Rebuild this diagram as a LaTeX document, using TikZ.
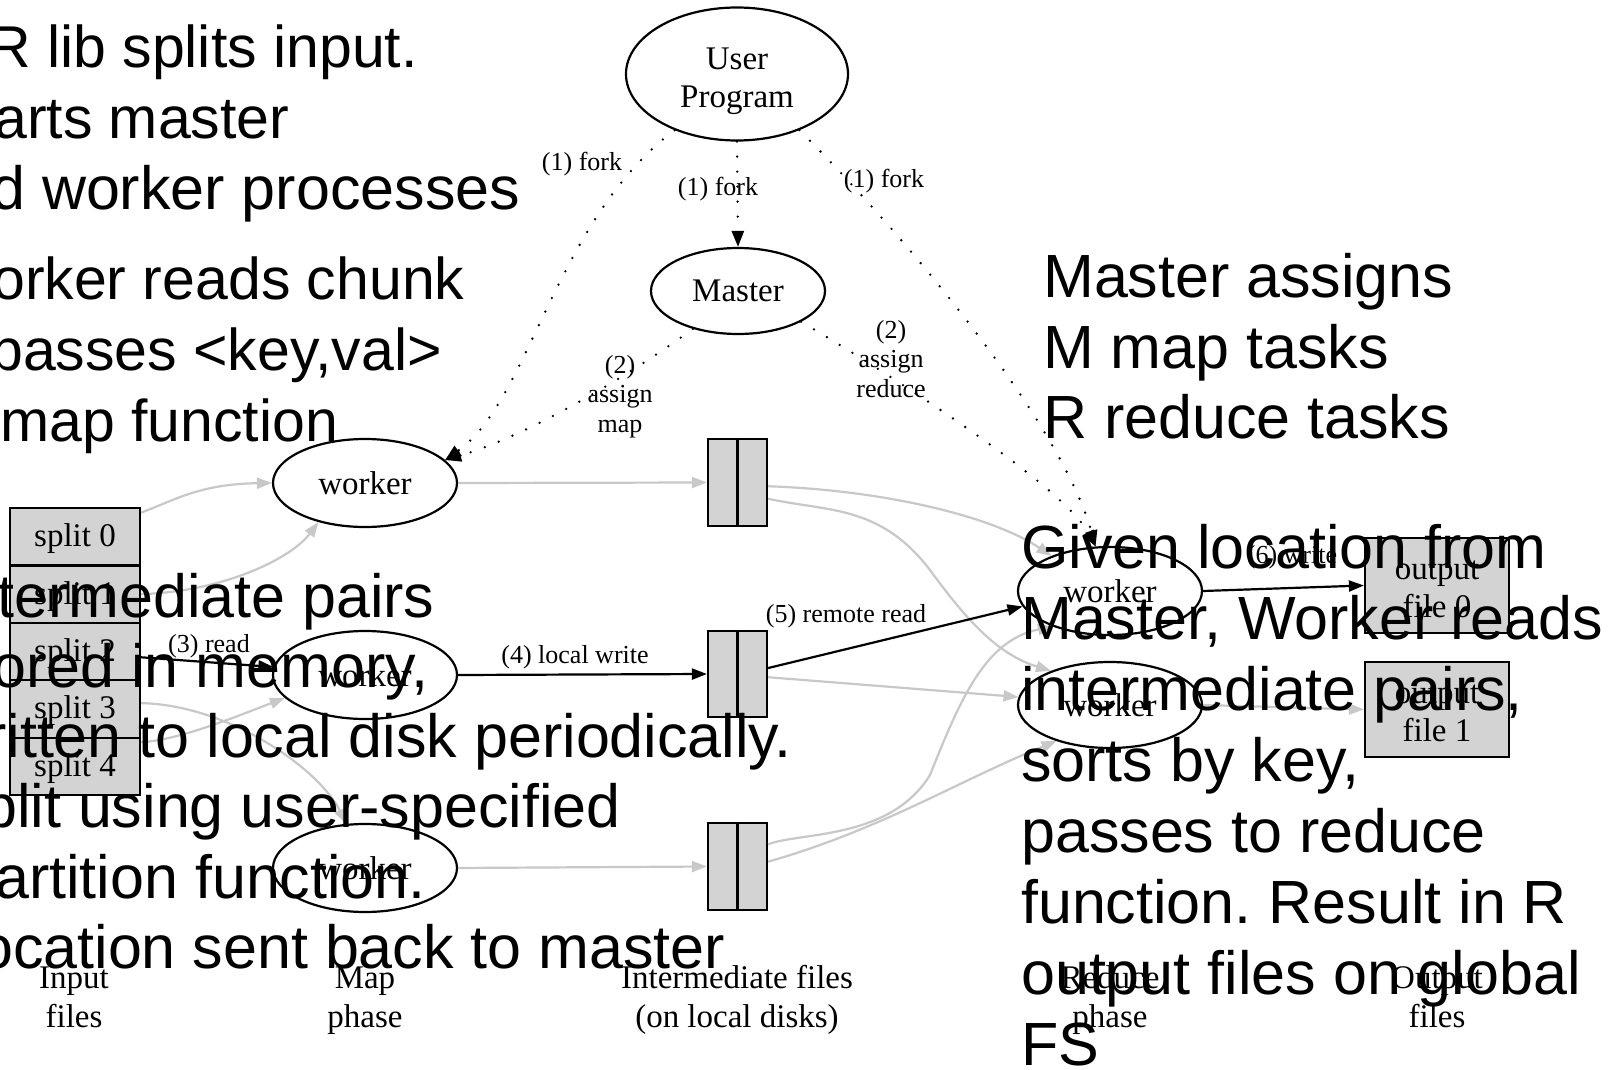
\documentclass[tikz,border=0pt]{standalone}
\usepackage{fontspec}
\setmainfont{Liberation Serif}
\newfontfamily\ovlfont{Liberation Sans}
\usetikzlibrary{arrows.meta,shapes.geometric}
\definecolor{edgegray}{HTML}{C8C8C8}
\definecolor{boxgray}{HTML}{D3D3D3}
\begin{document}
\begin{tikzpicture}[x=1pt,y=-1pt,
  gv/.style={font=\fontsize{33}{38}\selectfont, align=center},
  ell/.style={draw, ellipse, line width=2.2pt, inner sep=0pt, gv},
  cell/.style={draw, rectangle, line width=2.2pt, fill=boxgray, inner sep=0pt, gv},
  gedge/.style={draw=edgegray, line width=2.2pt, -{Triangle[length=15pt,width=11pt,fill=edgegray]}},
  bedge/.style={draw=black, line width=2.2pt, -{Triangle[length=15pt,width=11pt]}},
  dedge/.style={draw=black, line width=2.6pt, dash pattern=on 0pt off 15pt, line cap=round, -{Triangle[length=16pt,width=12pt]}},
  elabel/.style={font=\fontsize{26}{29.5}\selectfont, align=center, anchor=base, inner sep=0pt},
  blabel/.style={font=\fontsize{33}{39}\selectfont, align=center, anchor=base, inner sep=0pt},
  big/.style={font=\ovlfont\fontsize{61}{71}\selectfont\frenchspacing, anchor=base west, inner sep=0pt},
  bigs/.style={big, font=\ovlfont\fontsize{59}{71}\selectfont\frenchspacing}]
\path[use as bounding box, fill=white] (0,0) rectangle (1610,1070);

% ---- nodes ----
\node[ell, minimum width=222, minimum height=133] (up) at (737,74) {\rule{0pt}{36pt}User\\Program};
\node[ell, minimum width=174, minimum height=86] (ms) at (738,291) {Master};

\node[cell, minimum width=130, minimum height=57.4] (s0) at (75,536.7) {\rule{0pt}{27pt}split 0};
\node[cell, minimum width=130, minimum height=57.4] (s1) at (75,594.1) {\rule{0pt}{27pt}split 1};
\node[cell, minimum width=130, minimum height=57.4] (s2) at (75,651.5) {\rule{0pt}{27pt}split 2};
\node[cell, minimum width=130, minimum height=57.4] (s3) at (75,708.9) {\rule{0pt}{27pt}split 3};
\node[cell, minimum width=130, minimum height=57.4] (s4) at (75,766.3) {\rule{0pt}{27pt}split 4};

\node[ell, minimum width=184, minimum height=88] (w1) at (365,483) {worker};
\node[ell, minimum width=184, minimum height=88] (w2) at (365,675) {worker};
\node[ell, minimum width=184, minimum height=88] (w3) at (365,868) {worker};

\node[cell, minimum width=59, minimum height=87] (ib1) at (737.5,482.5) {};
\node[cell, minimum width=59, minimum height=86] (ib2) at (737.5,674) {};
\node[cell, minimum width=59, minimum height=87] (ib3) at (737.5,866.5) {};
\draw[line width=2.2pt] (ib1.north) -- (ib1.south);
\draw[line width=2.2pt] (ib2.north) -- (ib2.south);
\draw[line width=2.2pt] (ib3.north) -- (ib3.south);

\node[ell, minimum width=184, minimum height=88] (r1) at (1110,591) {worker};
\node[ell, minimum width=184, minimum height=86] (r2) at (1110,705) {worker};

\node[cell, minimum width=144, minimum height=95] (of0) at (1437,585.5) {\rule{0pt}{27pt}output\\file 0};
\node[cell, minimum width=144, minimum height=95] (of1) at (1437,709.5) {\rule{0pt}{27pt}output\\file 1};

% ---- dotted control edges ----
\draw[dedge] (up.south) -- (ms.north);
\draw[dedge] (up.222) .. controls (555,220) and (530,400) .. (w1.16);
\draw[dedge] (up.-42) .. controls (900,230) and (1060,420) .. (r1.108);
\draw[dedge] (ms.220) .. controls (630,375) and (530,435) .. (w1.16);
\draw[dedge] (ms.-26) .. controls (850,350) and (1060,480) .. (r1.108);

% ---- data edges ----
\draw[gedge] (s0.20) .. controls (175,500) and (200,484) .. (w1.west);
\draw[gedge] (s1.east) .. controls (220,592) and (290,560) .. (w1.220);
\draw[bedge] (s2.-5) -- (w2.175);
\draw[gedge] (s3.5) .. controls (230,705) and (320,770) .. (w3.113);
\draw[gedge] (s4.20) .. controls (180,740) and (240,715) .. (w2.196);

\draw[gedge] (w1.east) -- (ib1.west);
\draw[bedge] (w2.east) -- (ib2.west);
\draw[gedge] (w3.east) -- (ib3.west);

\draw[gedge] (ib1.-7) .. controls (880,490) and (990,515) .. (r1.149);
\draw[gedge] (ib1.-28) .. controls (830,512) and (880,505) .. (930,570) .. controls (970,625) and (1000,655) .. (r2.150);
\draw[bedge] (ib2.11) -- (r1.190);
\draw[gedge] (ib2.-6) -- (r2.175);
\draw[gedge] (ib3.36) .. controls (800,832) and (890,840) .. (930,775) .. controls (960,700) and (985,640) .. (r1.212);
\draw[gedge] (ib3.9) .. controls (880,830) and (960,780) .. (r2.214);

\draw[bedge] (r1.east) -- (of0.west);
\draw[gedge] (r2.east) -- (of1.west);

% ---- edge labels (anchor = baseline of last line) ----
\node[elabel] (lf1) at (582,171) {(1) fork};
\node[elabel] (lf2) at (718,196) {(1) fork};
\node[elabel] (lf3) at (884,187) {(1) fork};
\node[elabel] (lam) at (620,432) {(2)\\assign\\map};
\node[elabel] (lar) at (891,397) {(2)\\assign\\reduce};
\node[elabel] (lrd) at (209,652) {(3) read};
\node[elabel] (llw) at (575,663) {(4) local write};
\node[elabel] (lrr) at (846,622) {(5) remote read};
\node[elabel] (lwr) at (1292,563) {(6) write};

% ---- bottom labels ----
\node[blabel] (bin) at (74,1027) {Input\\files};
\node[blabel] (bmp) at (365,1027) {Map\\phase};
\node[blabel] (bif) at (737,1027) {Intermediate files\\(on local disks)};
\node[blabel] (brp) at (1110,1027) {Reduce\\phase};
\node[blabel] (bof) at (1437,1027) {Output\\files};

% ---- overlay text ----
\node[bigs] (t1) at (-12,68) {R lib splits input.};
\node[bigs] (t2) at (-6,139) {arts master};
\node[big] (t3) at (-9,210) {d worker processes};
\node[bigs] (t4) at (-8,299) {orker reads chunk};
\node[bigs] (t5) at (-10,370) {passes <key,val>};
\node[bigs] (t6) at (0,441) {map function};
\node[big] (t7) at (-3,617) {termediate pairs};
\node[big] (t8) at (-8,687) {ored in memory,};
\node[big] (t9) at (-14,757) {ritten to local disk periodically.};
\node[big] (t10) at (-17,827) {plit using user-specified};
\node[big] (t11) at (-5,898) {artition function.};
\node[big] (t12) at (-21,968) {ocation sent back to master};

\node[big] (m1) at (1043,297) {Master assigns};
\node[big] (m2) at (1043,368) {M map tasks};
\node[big] (m3) at (1043,438) {R reduce tasks};

\node[big] (g1) at (1021,568) {Given location from};
\node[big] (g2) at (1021,639) {Master, Worker reads};
\node[big] (g3) at (1021,710) {intermediate pairs,};
\node[big] (g4) at (1021,781) {sorts by key,};
\node[big] (g5) at (1021,852) {passes to reduce};
\node[big] (g6) at (1021,923) {function. Result in R};
\node[big] (g7) at (1021,994) {output files on global};
\node[big] (g8) at (1021,1065) {FS};
\end{tikzpicture}
\end{document}
